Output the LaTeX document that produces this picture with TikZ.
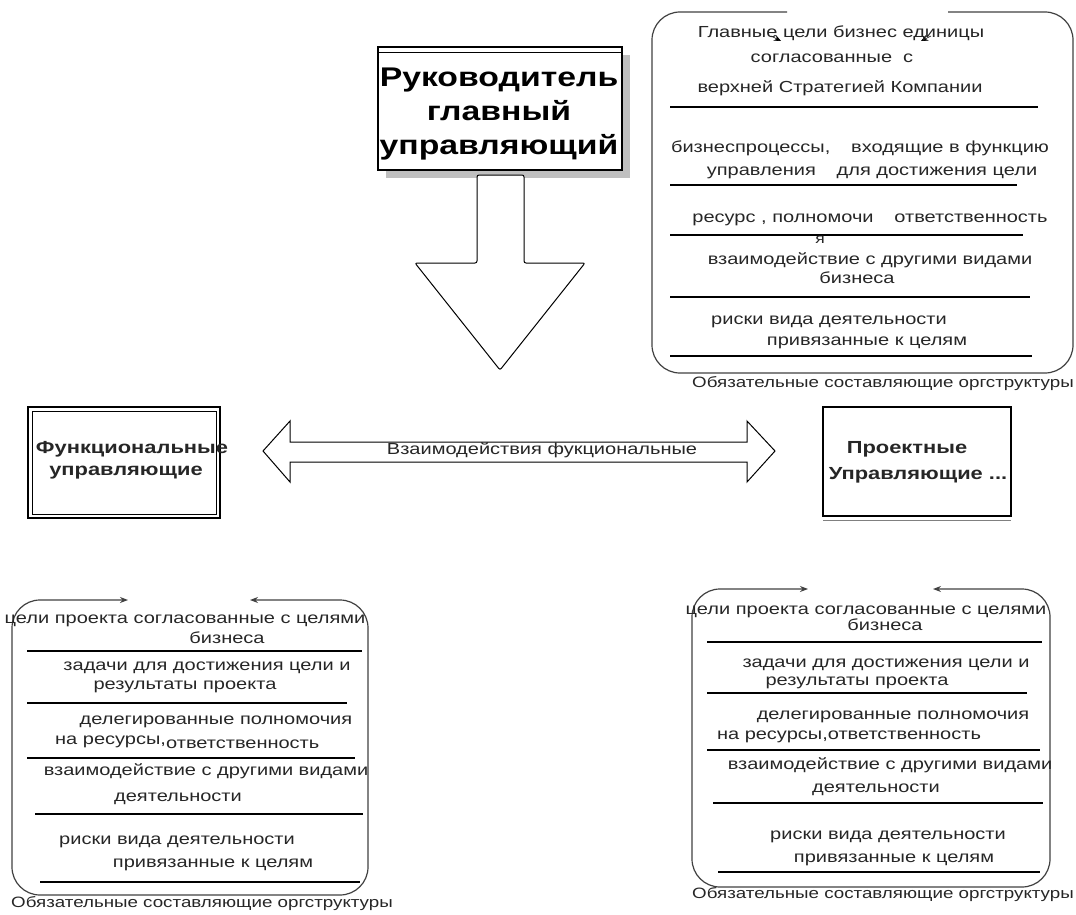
\documentclass[tikz,border=0pt]{standalone}
\usepackage{fontspec}
\setmainfont{Liberation Sans}[FakeStretch=1.25]
\usetikzlibrary{arrows.meta}
\begin{document}
\begin{tikzpicture}[x=1pt,y=-1pt,
  txt/.style={anchor=mid,inner sep=0pt,text=black!85,font=\fontsize{16}{18}\selectfont},
  sm/.style={txt,font=\fontsize{14}{16}\selectfont},
  foot/.style={txt,font=\fontsize{15}{17}\selectfont},
  bold/.style={anchor=mid,inner sep=0pt,text=black!85,font=\fontsize{17.5}{20}\selectfont\bfseries},
  title/.style={anchor=base,inner sep=0pt,font=\fontsize{27}{30}\selectfont\bfseries},
  sep/.style={line width=1.1pt},
  frame/.style={line width=1.2pt,draw=black!75,rounded corners=28pt},
  tip/.style={-{Stealth[length=7pt,width=6pt]}},
  twotip/.style={{Stealth[length=8pt,width=6pt]}-{Stealth[length=8pt,width=6pt]}}
]
\useasboundingbox (0,0) rectangle (1076,915);

% ---- title box ----
\fill[black!25] (386,55) rectangle (630,178);
\draw[line width=1.5pt,fill=white] (378,47) rectangle (622,170);
\draw[line width=1pt] (378,53) -- (622,53);
\node[title] (r1) at (499,87) {Руководитель};
\node[title] (r2) at (499,121) {главный};
\node[title] (r3) at (499,154) {управляющий};

% ---- down arrow ----
\draw[line width=1pt,fill=white,rounded corners=2pt] (477,175) -- (524,175) -- (524,263) -- (585,263) -- (500,370) -- (415,263) -- (477,263) -- cycle;

% ---- double arrow ----
\draw[line width=1pt,fill=white] (263,451) -- (290,421) -- (290,442) -- (747,442) -- (747,421) -- (775,451) -- (747,482) -- (747,462) -- (290,462) -- (290,482) -- cycle;
\node[txt] (inter) at (542,452) {Взаимодействия фукциональные};

% ---- functional box ----
\draw[line width=1.3pt] (28,407) rectangle (220,518);
\draw[line width=0.8pt] (32,411) rectangle (216,514);
\node[bold] (f1) at (132,451) {Функциональные};
\node[bold] (f2) at (126,473) {управляющие};

% ---- project box ----
\draw[line width=1.6pt] (823,407) rectangle (1011,516);
\draw[line width=1pt,black!50] (823,520) -- (1011,520);
\node[bold] (p1) at (907,451) {Проектные};
\node[bold] (p2) at (918,477) {Управляющие ...};

% ---- top-right box ----
\draw[frame] (787,12) -- (652,12) -- (652,373) -- (1073,373) -- (1073,12) -- (948,12);
\coordinate (ta1) at (771,36); \coordinate (tb1) at (781,41);
\coordinate (ta2) at (931,36); \coordinate (tb2) at (921,41);
\draw[tip,line width=0.6pt] (ta1) -- (tb1);
\draw[tip,line width=0.6pt] (ta2) -- (tb2);
\node[txt] (t1) at (841,35) {Главные цели бизнес единицы};
\node[txt] (t2) at (832,60) {согласованные\ \ с};
\node[txt] (t3) at (840,90) {верхней Стратегией Компании};
\draw[sep] (670,107) -- (1038,107);
\node[txt] (t4) at (860,150) {бизнеспроцессы,\hspace{1.3em}входящие в функцию};
\node[txt] (t5) at (872,173) {управления\hspace{1.3em}для достижения цели};
\draw[sep] (670,185) -- (1017,185);
\node[txt] (t6) at (870,220) {ресурс , полномочи\hspace{1.3em}ответственность};
\draw[sep] (670,235) -- (1023,235);
\node[sm] (t7) at (820,241) {я};
\node[txt] (t8) at (870,262) {взаимодействие с другими видами};
\node[txt] (t9) at (857,281) {бизнеса};
\draw[sep] (670,297) -- (1030,297);
\node[txt] (t10) at (829,322) {риски вида деятельности};
\node[txt] (t11) at (867,343) {привязанные к целям};
\draw[sep] (670,356) -- (1032,356);
\node[foot,anchor=mid east] (t12) at (1074,385) {Обязательные составляющие оргструктуры};

% ---- bottom-left box ----
\draw[frame,twotip] (128,600) -- (12,600) -- (12,895) -- (368,895) -- (368,600) -- (250,600);
\node[txt] (l1) at (185,621) {цели проекта согласованные с целями};
\node[txt] (l2) at (227,641) {бизнеса};
\draw[sep] (27,651) -- (362,651);
\node[txt] (l3) at (207,668) {задачи для достижения цели и};
\node[txt] (l4) at (185,687) {результаты проекта};
\draw[sep] (27,703) -- (347,703);
\node[txt] (l5) at (216,722) {делегированные полномочия};
\node[txt,anchor=mid west] (l6) at (55,742) {на ресурсы,};
\node[txt,anchor=mid west] (l7) at (166,746) {ответственность};
\draw[sep] (27,758) -- (355,758);
\node[txt] (l8) at (206,773) {взаимодействие с другими видами};
\node[txt] (l9) at (178,799) {деятельности};
\draw[sep] (35,814) -- (363,814);
\node[txt] (l10) at (177,842) {риски вида деятельности};
\node[txt] (l11) at (213,865) {привязанные к целям};
\draw[sep] (40,882) -- (360,882);
\node[foot] (l12) at (202,905) {Обязательные составляющие оргструктуры};

% ---- bottom-right box ----
\draw[frame,twotip] (808,589) -- (692,589) -- (692,887) -- (1050,887) -- (1050,589) -- (933,589);
\node[txt] (b1) at (866,612) {цели проекта согласованные с целями};
\node[txt] (b2) at (885,628) {бизнеса};
\draw[sep] (707,642) -- (1042,642);
\node[txt] (b3) at (886,665) {задачи для достижения цели и};
\node[txt] (b4) at (857,683) {результаты проекта};
\draw[sep] (707,693) -- (1027,693);
\node[txt] (b5) at (893,717) {делегированные полномочия};
\node[txt] (b6) at (849,737) {на ресурсы,ответственность};
\draw[sep] (707,750) -- (1040,750);
\node[txt] (b7) at (890,767) {взаимодействие с другими видами};
\node[txt] (b8) at (876,790) {деятельности};
\draw[sep] (713,803) -- (1043,803);
\node[txt] (b9) at (888,837) {риски вида деятельности};
\node[txt] (b10) at (894,860) {привязанные к целям};
\draw[sep] (718,872) -- (1040,872);
\node[foot,anchor=mid east] (b11) at (1074,896) {Обязательные составляющие оргструктуры};
\end{tikzpicture}
\end{document}
